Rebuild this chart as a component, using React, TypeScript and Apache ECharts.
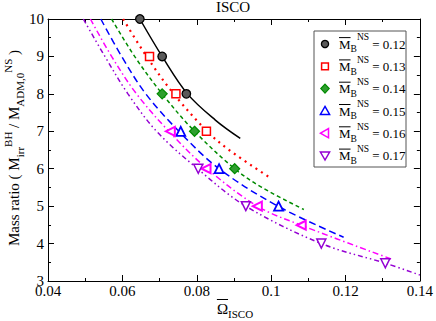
import React, { useEffect, useRef } from 'react';
import * as echarts from 'echarts';

const FONT = "'Liberation Serif', 'Times New Roman', serif";

// ---- data ----
const massLabels = ['0.12', '0.13', '0.14', '0.15', '0.16', '0.17'];

const pts012 = [[0.0647, 10], [0.0707, 9], [0.0772, 8]];
const pts013 = [[0.0673, 9], [0.0744, 8], [0.0826, 7]];
const pts014 = [[0.0707, 8], [0.0794, 7], [0.0902, 6]];
const pts015 = [[0.0757, 7], [0.086, 6], [0.102, 5]];
const pts016 = [[0.0729, 7], [0.0825, 6], [0.0963, 5], [0.1081, 4.49]];
const pts017 = [[0.0804, 6], [0.0932, 5], [0.1135, 4], [0.1307, 3.475]];

const fit012 = [[0.0647, 10], [0.0707, 9], [0.0775, 8], [0.085, 7.3], [0.0917, 6.81]];
const fit013 = [[0.0602, 10], [0.0665, 9], [0.0738, 8], [0.0828, 7], [0.0887, 6.5], [0.0994, 5.78]];
const fit014 = [[0.0571, 10], [0.0633, 9], [0.0707, 8], [0.0794, 7], [0.0902, 6], [0.0975, 5.5], [0.1088, 4.91]];
const fit015 = [[0.0542, 10], [0.0598, 9], [0.0663, 8], [0.0752, 7], [0.086, 6], [0.1018, 5], [0.1195, 4.17]];
const fit016 = [[0.0514, 10], [0.0571, 9], [0.0638, 8], [0.0725, 7], [0.0828, 6], [0.0963, 5], [0.1081, 4.49], [0.1328, 3.57]];
const fit017 = [[0.0495, 10], [0.0553, 9], [0.0615, 8], [0.0692, 7], [0.0802, 6], [0.0932, 5], [0.1135, 4], [0.1307, 3.475], [0.14, 3.16]];

const pointSets = [pts012, pts013, pts014, pts015, pts016, pts017];
const fitSets = [fit012, fit013, fit014, fit015, fit016, fit017];

// ---- styles ----
const looks = [
  { color: '#000000', symbol: 'circle', rot: 0, size: 8.5, fill: '#5a5a5a', bw: 1.3, dash: 'solid' as any, lw: 1.5 },
  { color: '#ff0000', symbol: 'rect', rot: 0, size: 8, fill: '#ffffff', bw: 1.5, dash: [2, 4.5], lw: 2.2 },
  { color: '#008b00', symbol: 'diamond', rot: 0, size: 10, fill: '#2e9e2e', bw: 1.2, dash: [4, 3], lw: 1.5 },
  { color: '#0000ff', symbol: 'triangle', rot: 0, size: 9, fill: '#ffffff', bw: 1.8, dash: [7, 4], lw: 1.5 },
  { color: '#ff00ff', symbol: 'triangle', rot: 90, size: 9, fill: '#ffffff', bw: 2, dash: [6, 3, 1.5, 3], lw: 1.5 },
  { color: '#9400d3', symbol: 'triangle', rot: 180, size: 9, fill: '#ffffff', bw: 1.5, dash: [5, 3, 1.5, 3, 1.5, 3], lw: 1.5 },
];

let ctx2d: CanvasRenderingContext2D | null = null;
function tw(text: string, size: number): number {
  if (!ctx2d) ctx2d = document.createElement('canvas').getContext('2d');
  if (!ctx2d) return text.length * size * 0.5;
  ctx2d.font = `${size}px ${FONT}`;
  return ctx2d.measureText(text).width;
}

type Frag = { t: string; s: number; dy: number };

function textEl(t: string, size: number, x: number, baseline: number, extra: any = {}) {
  return {
    type: 'text',
    x,
    y: baseline - 0.34 * size,
    silent: true,
    style: {
      text: t,
      fill: '#000',
      fontSize: size,
      fontFamily: FONT,
      align: 'left',
      verticalAlign: 'middle',
      ...extra,
    },
  };
}

function fragsEls(frags: Frag[], x0: number, base: number) {
  const els: any[] = [];
  let x = x0;
  const starts: number[] = [];
  for (const f of frags) {
    starts.push(x);
    els.push(textEl(f.t, f.s, x, base + f.dy));
    x += tw(f.t, f.s);
  }
  return { els, width: x - x0, starts };
}

function buildGraphics() {
  const g: any[] = [];
  // title
  const tW = tw('ISCO', 15);
  g.push(textEl('ISCO', 15, 233 - tW / 2, 12));

  // x-axis name: Omega-bar with subscript ISCO
  const xFr: Frag[] = [
    { t: 'Ω', s: 15, dy: 0 },
    { t: 'ISCO', s: 11, dy: 4 },
  ];
  const xTot = tw('Ω', 15) + tw('ISCO', 11);
  const xStart = 235 - xTot / 2;
  const xr = fragsEls(xFr, xStart, 314);
  g.push(...xr.els);
  g.push({
    type: 'line',
    silent: true,
    shape: { x1: xStart, y1: 299.5, x2: xStart + tw('Ω', 15), y2: 299.5 },
    style: { stroke: '#000', lineWidth: 1 },
  });

  // y-axis name (rotated)
  const yFr: Frag[] = [
    { t: 'Mass ratio ( M', s: 15, dy: 0 },
    { t: 'irr', s: 11, dy: 4 },
    { t: 'BH', s: 11, dy: -8 },
    { t: ' / M', s: 15, dy: 0 },
    { t: 'ADM,0', s: 11, dy: 4 },
    { t: 'NS', s: 11, dy: -8 },
    { t: ' )', s: 15, dy: 0 },
  ];
  const yr = fragsEls(yFr, 0, 0);
  g.push({
    type: 'group',
    x: 19.5,
    y: 148 + yr.width / 2,
    rotation: Math.PI / 2,
    children: yr.els,
  });

  // legend box
  const lx = 314, ly = 31, lw = 92, lh = 136;
  g.push({
    type: 'rect',
    silent: true,
    shape: { x: lx, y: ly, width: lw, height: lh },
    style: { fill: '#ffffff', stroke: '#555555', lineWidth: 1 },
    z: 10,
  });
  for (let i = 0; i < massLabels.length; i++) {
    const cy = 44 + i * 22.3;
    const cx = 325;
    const lk = looks[i];
    const st = { fill: lk.fill, stroke: lk.color, lineWidth: Math.min(lk.bw, 1.5) };
    let sym: any;
    if (i === 0) sym = { type: 'circle', shape: { cx, cy, r: 3.6 }, style: st };
    else if (i === 1) sym = { type: 'rect', shape: { x: cx - 3.4, y: cy - 3.4, width: 6.8, height: 6.8 }, style: st };
    else if (i === 2) sym = { type: 'polygon', shape: { points: [[cx, cy - 4.5], [cx + 4.2, cy], [cx, cy + 4.5], [cx - 4.2, cy]] }, style: st };
    else if (i === 3) sym = { type: 'polygon', shape: { points: [[cx, cy - 4.5], [cx + 4.6, cy + 3.5], [cx - 4.6, cy + 3.5]] }, style: st };
    else if (i === 4) sym = { type: 'polygon', shape: { points: [[cx - 4.5, cy], [cx + 3.5, cy - 4.6], [cx + 3.5, cy + 4.6]] }, style: st };
    else sym = { type: 'polygon', shape: { points: [[cx, cy + 4.5], [cx - 4.6, cy - 3.5], [cx + 4.6, cy - 3.5]] }, style: st };
    sym.z = 11;
    sym.silent = true;
    g.push(sym);

    const base = cy + 4.6;
    const fr: Frag[] = [
      { t: 'M', s: 13, dy: 0 },
      { t: 'B', s: 9.5, dy: 4 },
      { t: 'NS', s: 9.5, dy: -8 },
      { t: ' = ' + massLabels[i], s: 13, dy: 0 },
    ];
    const r = fragsEls(fr, 339, base);
    r.els.forEach((e: any) => { e.z = 11; g.push(e); });
    g.push({
      type: 'line',
      silent: true,
      z: 11,
      shape: { x1: 339, y1: base - 11, x2: 339 + tw('M', 13), y2: base - 11 },
      style: { stroke: '#000', lineWidth: 1 },
    });
  }
  return g;
}

function axisCommon(showLabels: boolean, isX: boolean) {
  return {
    type: 'value' as const,
    min: isX ? 0.04 : 3,
    max: isX ? 0.14 : 10,
    interval: isX ? 0.02 : 1,
    axisLine: { show: true, onZero: false, lineStyle: { color: '#000', width: 1 } },
    axisTick: { show: true, inside: true, length: 6, lineStyle: { color: '#000', width: 1 } },
    minorTick: { show: true, splitNumber: 2, length: 3, lineStyle: { color: '#000', width: 1 } },
    splitLine: { show: false },
    minorSplitLine: { show: false },
    axisLabel: {
      show: showLabels,
      color: '#000',
      fontSize: 15,
      fontFamily: FONT,
      margin: isX ? 2 : 4,
      formatter: (v: number) => String(parseFloat(v.toFixed(isX ? 2 : 0))),
    },
  };
}

export default function App() {
  const ref = useRef<HTMLDivElement>(null);
  useEffect(() => {
    if (!ref.current) return;
    const chart = echarts.init(ref.current, undefined, { renderer: 'svg' });
    const series: any[] = [];
    fitSets.forEach((d, i) => {
      const lk = looks[i];
      series.push({
        type: 'line',
        data: d,
        smooth: 0.35,
        showSymbol: false,
        symbol: 'none',
        silent: true,
        z: 2,
        lineStyle: { color: lk.color, width: lk.lw, type: lk.dash, cap: 'butt' },
      });
    });
    pointSets.forEach((d, i) => {
      const lk = looks[i];
      series.push({
        type: 'scatter',
        data: d,
        symbol: lk.symbol,
        symbolRotate: lk.rot,
        symbolSize: lk.size,
        silent: true,
        z: 5,
        itemStyle: { color: lk.fill, borderColor: lk.color, borderWidth: lk.bw, opacity: 1 },
      });
    });
    chart.setOption({
      animation: false,
      backgroundColor: '#ffffff',
      grid: { left: 48, top: 19, right: 15, bottom: 40, containLabel: false },
      xAxis: [
        { ...axisCommon(true, true), position: 'bottom' },
        { ...axisCommon(false, true), position: 'top' },
      ],
      yAxis: [
        { ...axisCommon(true, false), position: 'left' },
        { ...axisCommon(false, false), position: 'right' },
      ],
      series,
      graphic: buildGraphics(),
    });
    return () => chart.dispose();
  }, []);
  return (
    <div
      ref={ref}
      style={{ position: 'fixed', left: 0, top: 0, width: 436, height: 321, background: '#fff' }}
    />
  );
}
